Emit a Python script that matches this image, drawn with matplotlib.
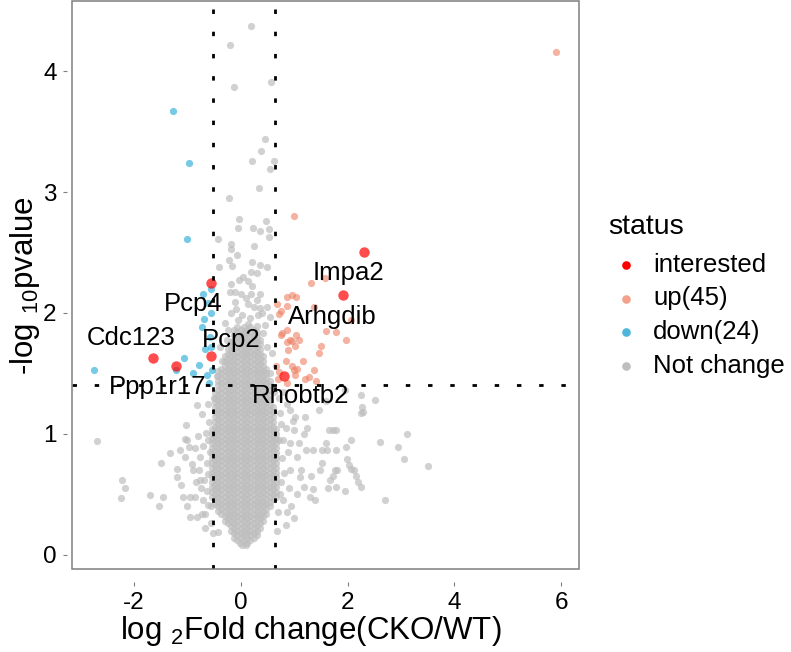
import matplotlib
matplotlib.use("Agg")
import matplotlib.pyplot as plt
from matplotlib.lines import Line2D
from matplotlib.patches import Rectangle

plt.rcParams['font.family'] = ['Liberation Sans', 'DejaVu Sans']
plt.rcParams['mathtext.fontset'] = 'custom'
plt.rcParams['mathtext.rm'] = 'Liberation Sans'
plt.rcParams['mathtext.it'] = 'Liberation Sans'
plt.rcParams['axes.unicode_minus'] = False

# ---- data (log2 fold change, -log10 p) ----
# scattered "Not change" points
grey_pts = [
    (0.20, 4.37), (-0.20, 4.22), (-0.12, 3.87), (0.57, 3.91), (0.455, 3.44), (0.375, 3.34),
    (0.21, 3.26), (0.63, 3.26), (0.54, 3.19), (0.35, 3.03), (-0.22, 2.95),
    (-0.04, 2.78), (0.47, 2.76), (-0.05, 2.70), (0.23, 2.70), (0.37, 2.675), (0.53, 2.69),
    (0.53, 2.63), (-0.43, 2.61), (-0.19, 2.57), (-0.18, 2.53), (0.25, 2.55), (-0.06, 2.48),
    (-0.21, 2.44), (-0.41, 2.38), (-0.17, 2.39), (0.22, 2.42), (0.19, 2.34), (0.37, 2.40),
    (0.50, 2.38), (0.30, 2.33), (0.05, 2.30), (-0.03, 2.27), (0.14, 2.26), (-0.18, 2.24),
    (0.21, 2.22), (-0.20, 2.17), (-0.10, 2.17), (0.00, 2.16), (0.19, 2.16), (0.36, 2.16),
    (0.30, 2.11), (-0.11, 2.09), (0.14, 2.07), (0.24, 2.05), (0.36, 2.04), (0.49, 2.05),
    (-0.18, 2.00), (0.02, 1.98), (0.17, 1.96), (0.40, 2.00), (0.55, 1.97), (0.13, 1.91),
    (0.30, 1.89), (0.42, 1.83), (0.08, 1.83), (-0.07, 1.79), (-0.26, 1.78), (-0.39, 1.72),
    (0.49, 1.72), (0.58, 1.67), (-0.30, 1.92), (-0.05, 1.94), (0.25, 1.80), (-0.35, 1.60),
    (0.55, 1.50), (-0.45, 1.48), (0.62, 1.35), (-0.50, 1.30), (0.10, 2.12), (-0.08, 2.03),
    (0.32, 1.98), (0.46, 1.90), (-0.24, 1.86),
    # left side
    (-2.69, 0.94), (-2.22, 0.62), (-2.17, 0.55), (-2.25, 0.47), (-1.70, 0.49), (-1.53, 0.40),
    (-1.45, 0.48), (-1.50, 0.76), (-1.33, 0.84), (-1.20, 0.71), (-1.20, 0.64), (-1.14, 0.87),
    (-1.05, 0.96), (-1.02, 1.07), (-0.96, 0.89), (-1.08, 0.48), (-1.00, 0.40), (-0.95, 0.31),
    (-0.86, 0.48), (-0.83, 0.60), (-0.91, 0.75), (-0.82, 1.24), (-0.73, 1.16), (-0.65, 1.01),
    (-0.72, 0.34), (-0.61, 0.41), (-0.61, 0.67), (-0.76, 0.81), (-0.55, 0.26), (-0.43, 0.19),
    (-1.01, 0.95), (-1.04, 0.81), (-0.89, 0.70), (-0.76, 0.62), (-0.95, 0.48), (-0.67, 0.34),
    (-0.82, 0.31), (-0.64, 0.53), (-0.64, 0.76), (-0.51, 0.18), (-0.70, 0.90), (-0.60, 1.10),
    (-0.75, 0.55), (-0.58, 0.85), (-0.62, 1.25), (-0.55, 0.40), (-0.68, 0.62), (-0.80, 0.98),
    (-0.70, 0.45), (-0.86, 0.88), (-0.62, 0.95), (-0.66, 0.22), (-0.78, 0.70), (-1.12, 0.58),
    # right side
    (0.86, 1.25), (1.01, 1.14), (1.20, 1.14), (1.24, 1.05), (1.19, 1.00), (1.46, 1.20),
    (1.59, 1.27), (1.95, 1.36), (2.25, 1.32), (2.28, 1.22), (2.29, 1.18), (2.25, 1.17),
    (2.51, 1.28), (1.66, 1.03), (1.78, 1.03), (1.59, 0.92), (1.78, 0.87), (1.97, 0.89),
    (2.07, 0.95), (2.61, 0.93), (2.95, 0.89), (3.12, 1.00), (3.05, 0.79), (3.50, 0.73),
    (2.71, 0.45), (1.99, 0.79), (2.03, 0.74), (2.06, 0.71), (2.13, 0.70), (2.16, 0.65),
    (2.19, 0.60), (2.26, 0.56), (1.96, 0.53), (1.78, 0.56), (1.63, 0.55), (1.73, 0.65),
    (1.76, 0.70), (1.32, 0.65), (1.36, 0.54), (1.39, 0.45), (1.19, 0.56), (1.12, 0.70),
    (1.52, 0.76), (1.22, 0.87), (1.06, 0.81), (0.92, 0.92), (0.99, 1.03), (1.52, 0.87),
    (0.74, 1.17), (0.98, 1.11), (1.35, 0.87), (0.92, 0.70), (1.11, 0.64), (1.30, 0.48),
    (1.48, 0.70), (1.67, 0.62), (1.80, 0.70), (1.73, 1.03), (1.62, 0.87),
    (0.72, 0.95), (0.78, 0.80), (0.75, 0.60), (0.80, 0.45), (0.70, 0.35), (0.85, 1.05),
    (0.90, 0.55), (0.95, 0.40), (0.72, 1.30), (0.80, 1.35), (0.68, 0.20), (1.00, 0.30),
    (0.85, 0.25), (0.76, 1.08), (0.82, 0.68), (0.88, 0.85), (0.74, 0.50), (1.05, 0.50),
    (0.80, 0.95), (0.92, 1.20), (1.10, 0.92), (0.86, 0.35),
]

# dense core of "Not change" points: x positions used on the core rows
core_x = {
    'A': [-0.48, -0.36, -0.24, -0.12, 0.0, 0.12, 0.24, 0.36, 0.48, 0.60],
    'B': [-0.54, -0.42, -0.30, -0.18, -0.06, 0.06, 0.18, 0.30, 0.42, 0.54, 0.66],
    'a9': [-0.48, -0.36, -0.24, -0.12, 0.0, 0.12, 0.24, 0.36, 0.48],
    'b9': [-0.42, -0.30, -0.18, -0.06, 0.06, 0.18, 0.30, 0.42, 0.54],
    'a8': [-0.36, -0.24, -0.12, 0.0, 0.12, 0.24, 0.36, 0.48],
    'b8': [-0.42, -0.30, -0.18, -0.06, 0.06, 0.18, 0.30, 0.42],
    'b7': [-0.30, -0.18, -0.06, 0.06, 0.18, 0.30, 0.42],
    'a6': [-0.24, -0.12, 0.0, 0.12, 0.24, 0.36],
    'b5': [-0.18, -0.06, 0.06, 0.18, 0.30],
    'a5': [-0.12, 0.0, 0.12, 0.24, 0.36],
    'b4': [-0.06, 0.06, 0.18, 0.30],
    'a4': [-0.12, 0.0, 0.12, 0.24],
    'b3': [-0.06, 0.06, 0.18],
    'a2': [0.02, 0.10],
    'b2': [-0.02, 0.12],
}
# (-log10 p, which x set)
core_rows = [
    (0.08, 'a2'), (0.10, 'b2'), (0.12, 'b3'), (0.14, 'a4'), (0.16, 'b4'), (0.18, 'a4'),
    (0.20, 'b5'), (0.22, 'a5'), (0.24, 'b5'), (0.26, 'a6'), (0.28, 'b7'), (0.30, 'a6'),
    (0.32, 'b7'), (0.34, 'a8'), (0.36, 'b8'), (0.38, 'a8'), (0.40, 'b9'), (0.42, 'a9'),
    (0.44, 'b9'), (0.46, 'A'), (0.48, 'B'), (0.50, 'A'), (0.52, 'B'), (0.54, 'A'),
    (0.56, 'B'), (0.58, 'A'), (0.60, 'B'), (0.62, 'A'), (0.64, 'B'), (0.66, 'A'),
    (0.68, 'B'), (0.70, 'A'), (0.72, 'B'), (0.74, 'A'), (0.76, 'B'), (0.78, 'A'),
    (0.80, 'B'), (0.82, 'A'), (0.84, 'B'), (0.86, 'A'), (0.88, 'B'), (0.90, 'A'),
    (0.92, 'B'), (0.94, 'A'), (0.96, 'B'), (0.98, 'A'), (1.00, 'B'), (1.02, 'A'),
    (1.04, 'B'), (1.06, 'A'), (1.08, 'b9'), (1.10, 'A'), (1.12, 'b9'), (1.14, 'A'),
    (1.16, 'b9'), (1.18, 'A'), (1.20, 'b9'), (1.22, 'A'), (1.24, 'b9'), (1.26, 'a9'),
    (1.28, 'b9'), (1.30, 'a9'), (1.32, 'b9'), (1.34, 'a9'), (1.36, 'b9'), (1.38, 'a8'),
    (1.40, 'b9'), (1.42, 'a8'), (1.44, 'b9'), (1.46, 'a8'), (1.48, 'b8'), (1.50, 'a8'),
    (1.52, 'b8'), (1.54, 'a8'), (1.56, 'b7'), (1.58, 'a6'), (1.60, 'b7'), (1.62, 'a6'),
    (1.64, 'b7'), (1.66, 'a6'), (1.68, 'b5'), (1.70, 'a6'), (1.72, 'b5'), (1.74, 'a5'),
    (1.76, 'b5'), (1.78, 'a5'), (1.80, 'b4'), (1.82, 'a4'), (1.84, 'b4'), (1.86, 'a4'),
    (1.88, 'b3'),
]

up_pts = [
    (5.90, 4.155), (1.00, 2.80), (1.31, 2.25), (1.57, 2.29), (0.86, 2.13), (0.96, 2.15),
    (1.04, 2.13), (0.68, 2.07), (0.87, 2.06), (0.71, 1.99), (1.37, 2.05), (2.06, 1.94),
    (1.78, 1.84), (1.97, 1.78), (0.76, 1.82), (1.03, 1.82), (1.10, 1.78), (0.87, 1.76),
    (0.96, 1.77), (1.51, 1.73), (0.88, 1.69), (1.47, 1.67), (0.84, 1.60), (1.16, 1.60),
    (0.67, 1.56), (0.96, 1.56), (1.06, 1.54), (1.00, 1.53), (1.38, 1.53), (0.71, 1.51),
    (1.28, 1.47), (1.41, 1.44), (0.86, 1.42), (1.01, 1.49), (0.75, 2.02), (0.86, 1.86),
    (0.77, 1.83), (0.92, 1.78), (1.02, 1.73), (1.60, 1.85), (0.70, 1.45), (1.20, 1.45),
]

down_pts = [
    (-1.26, 3.67), (-0.96, 3.24), (-1.00, 2.61), (-0.70, 2.16), (-0.56, 2.20), (-0.55, 2.00),
    (-0.69, 1.95), (-0.72, 1.88), (-0.56, 1.72), (-1.06, 1.63), (-0.78, 1.57), (-2.74, 1.53),
    (-1.22, 1.53), (-0.64, 1.49), (-0.60, 1.42), (-0.54, 1.53), (-0.58, 1.80), (-0.66, 1.70),
    (-0.90, 1.50), (-0.62, 2.08),
]

genes = ['Impa2', 'Arhgdib', 'Rhobtb2', 'Pcp4', 'Pcp2', 'Cdc123', 'Ppp1r17']
gene_x = [2.31, 1.91, 0.81, -0.56, -0.56, -1.65, -1.21]
gene_y = [2.50, 2.15, 1.48, 2.25, 1.64, 1.63, 1.56]
# where the repelled labels ended up
label_x = [2.01, 1.72, 1.13, -0.89, -0.18, -2.05, -1.56]
label_y = [2.33, 1.97, 1.31, 2.07, 1.78, 1.79, 1.39]

fc_cut = [-0.52, 0.65]
p_cut = 1.40

grey = '#BEBEBE'
up_col = '#EE7F63'
down_col = '#3DB4DC'
red = '#FF0000'

fig = plt.figure(figsize=(7.91, 6.52), dpi=100)
ax = fig.add_axes([0.0906, 0.1273, 0.6408, 0.8712])

gx = [p[0] for p in grey_pts]
gy = [p[1] for p in grey_pts]
for yv, key in core_rows:
    gx += core_x[key]
    gy += [yv] * len(core_x[key])

ax.scatter(gx, gy, s=27, color=grey, alpha=0.7, linewidths=0, zorder=2)
ax.scatter([p[0] for p in up_pts], [p[1] for p in up_pts], s=27, color=up_col,
           alpha=0.6, linewidths=0, zorder=3)
ax.scatter([p[0] for p in down_pts], [p[1] for p in down_pts], s=27, color=down_col,
           alpha=0.7, linewidths=0, zorder=3)
ax.scatter(gene_x, gene_y, s=56, color=red, alpha=0.7, linewidths=0, zorder=4)

dots = (0, (1.6, 6.4))
for v in fc_cut:
    ax.axvline(v, color='black', lw=2.0, ls=dots, zorder=5)
ax.axhline(p_cut, color='black', lw=2.0, ls=dots, zorder=5)

for g, lx, ly in zip(genes, label_x, label_y):
    ax.text(lx, ly, g, fontsize=18.5, ha='center', va='center', zorder=6)

ax.set_xlim(-3.165, 6.326)
ax.set_ylim(-0.118, 4.58)
ax.set_xticks([-2, 0, 2, 4, 6])
ax.set_yticks([0, 1, 2, 3, 4])
ax.set_xticklabels(['-2', '0', '2', '4', '6'])

for s in ax.spines.values():
    s.set_visible(False)
ax.spines['bottom'].set_position(('outward', 9.1))
ax.spines['left'].set_position(('outward', 3.6))
ax.add_patch(Rectangle((0, 0), 1, 1, transform=ax.transAxes, fill=False,
                       edgecolor='#7F7F7F', lw=1.1, clip_on=False, zorder=7))
ax.tick_params(length=2.9, width=0.8, color='#7F7F7F', labelsize=17.5, pad=4.3,
               labelcolor='black')

fig.text(311 / 791, 1 - 631 / 652, r'log $_{2}$Fold change(CKO/WT)', fontsize=22.5,
         ha='center', va='center')
fig.text(25 / 791, 1 - 285 / 652, r'-log $_{10}$pvalue', fontsize=22.5,
         ha='center', va='center', rotation=90)

# legend
fig.text(608 / 791, 1 - 227 / 652, 'status', fontsize=20.5, ha='left', va='center')
leg_labels = ['interested', 'up(45)', 'down(24)', 'Not change']
leg_colors = [red, '#F4A18C', '#4DB6DA', grey]
leg_y = [265, 298.5, 332, 365.5]
for lab, c, yy in zip(leg_labels, leg_colors, leg_y):
    fig.add_artist(Line2D([626 / 791], [1 - yy / 652], marker='o', markersize=6.2,
                          color=c, markeredgewidth=0, linestyle='none',
                          transform=fig.transFigure))
    fig.text(653 / 791, 1 - yy / 652, lab, fontsize=18.5, ha='left', va='center')

fig.savefig('out.png', dpi=100)
